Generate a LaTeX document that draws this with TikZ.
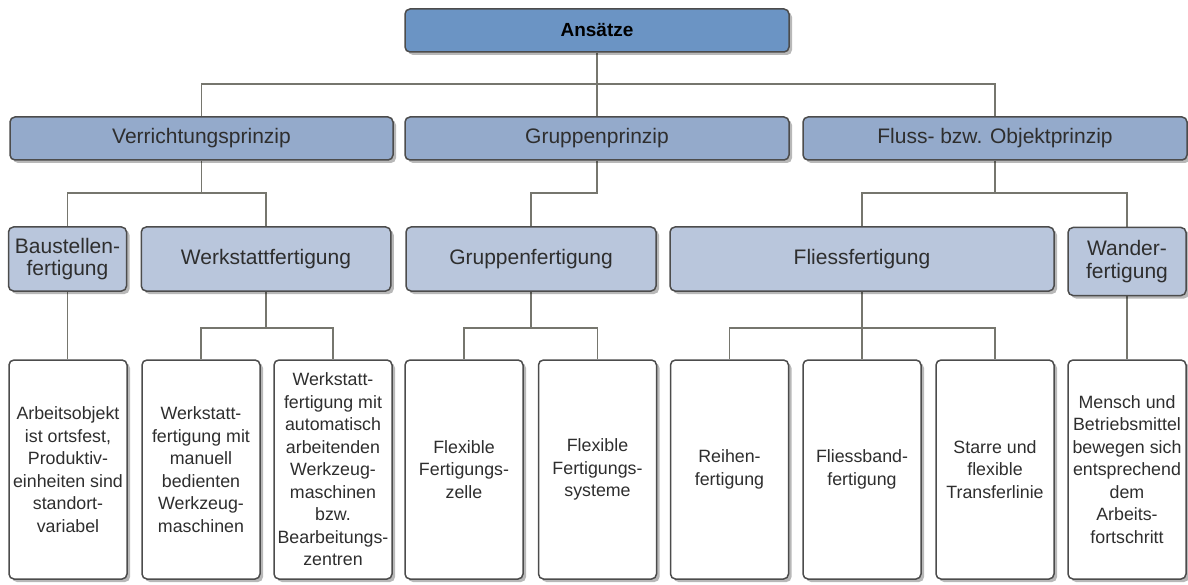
\documentclass[tikz,border=0pt]{standalone}
\usepackage{fontspec}
\setmainfont{Liberation Sans}
\usetikzlibrary{shadows,backgrounds}
\definecolor{topblue}{HTML}{6B94C4}
\definecolor{midblue}{HTML}{94AACB}
\definecolor{lowblue}{HTML}{B9C6DC}
\definecolor{edgegray}{HTML}{4C4C4C}
\definecolor{linegray}{HTML}{76766E}
\definecolor{txtgray}{HTML}{2E2E2E}
\tikzset{
  box/.style={draw=edgegray, line width=1.5pt, rounded corners=5pt, inner sep=0pt,
    align=center, text=txtgray,
    drop shadow={shadow xshift=3pt, shadow yshift=-3pt, fill=black, opacity=0.28}},
  topbox/.style={box, fill=topblue, minimum width=384pt, minimum height=43pt,
    font=\fontsize{19}{22}\selectfont\bfseries, text=black},
  lvtwo/.style={box, fill=midblue, minimum height=43pt,
    font=\fontsize{21}{22.5}\selectfont},
  lvthree/.style={box, fill=lowblue, minimum height=64pt,
    font=\fontsize{21}{22.5}\selectfont},
  leaf/.style={box, fill=white, minimum width=118pt, minimum height=219pt,
    font=\fontsize{17.8}{22.5}\selectfont},
  conn/.style={draw=linegray, line width=1.7pt}
}
\begin{document}
\begin{tikzpicture}[x=1pt,y=-1pt]
\useasboundingbox (0,0) rectangle (1188,585);
% rows of junctions
\coordinate (r1) at (0,84);
\coordinate (r2) at (0,193);
\coordinate (r3) at (0,328);
% level 1
\node[topbox] (top) at (597,30.5) {Ansätze};
% level 2
\node[lvtwo, minimum width=383pt] (V) at (201.5,138.5) {Verrichtungsprinzip};
\node[lvtwo, minimum width=384pt] (G) at (597,138.5) {Gruppenprinzip};
\node[lvtwo, minimum width=384pt] (F) at (995,138.5) {Fluss- bzw. Objektprinzip};
% level 3
\node[lvthree, minimum width=118pt] (Bau) at (67.5,259) {Baustellen-\\fertigung};
\node[lvthree, minimum width=249.5pt] (Wk) at (266,259) {Werkstattfertigung};
\node[lvthree, minimum width=250pt] (Gf) at (531,259) {Gruppenfertigung};
\node[lvthree, minimum width=384pt] (Fl) at (862,259) {Fliessfertigung};
\node[lvthree, minimum width=118pt, minimum height=68pt] (Wa) at (1127,261.5) {Wander-\\fertigung};
% level 4
\node[leaf] (A1) at (68,469.5) {Arbeitsobjekt\\ist ortsfest,\\Produktiv-\\einheiten sind\\standort-\\variabel};
\node[leaf] (A2) at (201,469.5) {Werkstatt-\\fertigung mit\\manuell\\bedienten\\Werkzeug-\\maschinen};
\node[leaf] (A3) at (333,469.5) {Werkstatt-\\fertigung mit\\automatisch\\arbeitenden\\Werkzeug-\\maschinen\\bzw.\\Bearbeitungs-\\zentren};
\node[leaf] (A4) at (464,469.5) {Flexible\\Fertigungs-\\zelle};
\node[leaf] (A5) at (597.5,469.5) {Flexible\\Fertigungs-\\systeme};
\node[leaf] (A6) at (729.5,469.5) {Reihen-\\fertigung};
\node[leaf] (A7) at (862,469.5) {Fliessband-\\fertigung};
\node[leaf] (A8) at (995,469.5) {Starre und\\flexible\\Transferlinie};
\node[leaf] (A9) at (1127,469.5) {Mensch und\\Betriebsmittel\\bewegen sich\\entsprechend\\dem\\Arbeits-\\fortschritt};
% connectors
\begin{scope}[on background layer]
\draw[conn] (top.south) -- (top.south |- G.north);
\draw[conn] (V.north) |- (r1 -| F.north) -- (F.north);
\draw[conn] (V.south) -- (V.south |- r2) -| (Bau.north);
\draw[conn] (V.south |- r2) -| (Wk.north);
\draw[conn] (G.south) |- (r2 -| Gf.north) -- (Gf.north);
\draw[conn] (F.south) -- (F.south |- r2) -| (Fl.north);
\draw[conn] (F.south |- r2) -| (Wa.north);
\draw[conn] (Bau.south) -- (Bau.south |- A1.north);
\draw[conn] (Wk.south) -- (Wk.south |- r3) -| (A2.north);
\draw[conn] (Wk.south |- r3) -| (A3.north);
\draw[conn] (Gf.south) -- (Gf.south |- r3) -| (A4.north);
\draw[conn] (Gf.south |- r3) -| (A5.north);
\draw[conn] (Fl.south) -- (Fl.south |- A7.north);
\draw[conn] (Fl.south |- r3) -| (A6.north);
\draw[conn] (Fl.south |- r3) -| (A8.north);
\draw[conn] (Wa.south) -- (A9.north);
\end{scope}
\end{tikzpicture}
\end{document}
